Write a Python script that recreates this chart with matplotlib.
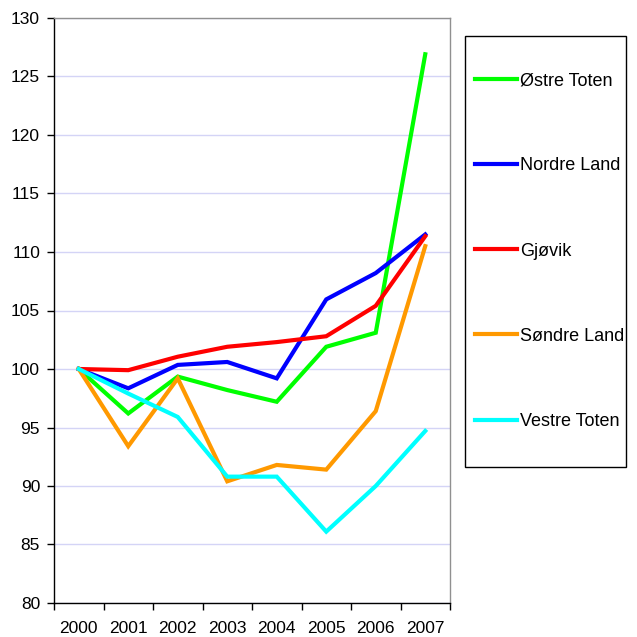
import matplotlib
matplotlib.use("Agg")
import matplotlib.pyplot as plt
from matplotlib.patches import Rectangle
import numpy as np

plt.rcParams['font.family'] = ['Liberation Sans', 'DejaVu Sans']

years = ["2000", "2001", "2002", "2003", "2004", "2005", "2006", "2007"]
series_names = ["Østre Toten", "Nordre Land", "Gjøvik", "Søndre Land", "Vestre Toten"]
ostre_toten = [100, 96.2, 99.35, 98.2, 97.2, 101.9, 103.1, 126.9]
nordre_land = [100, 98.35, 100.35, 100.6, 99.2, 105.95, 108.2, 111.5]
gjovik = [100, 99.9, 101.05, 101.9, 102.3, 102.8, 105.4, 111.35]
sondre_land = [100, 93.4, 99.2, 90.4, 91.8, 91.4, 96.4, 110.5]
vestre_toten = [100, 97.9, 95.9, 90.8, 90.8, 86.1, 90.0, 94.7]
colors = ["#00FF00", "#0000FF", "#FF0000", "#FF9900", "#00FFFF"]
y_ticks = [80, 85, 90, 95, 100, 105, 110, 115, 120, 125, 130]

W = H = 637
fig = plt.figure(figsize=(W / 100, H / 100), dpi=100)
ax = fig.add_axes([54 / W, 1 - 603 / H, 396 / W, 585 / H])

x = np.arange(len(years))
handles = []
for name, vals, c in zip(series_names, [ostre_toten, nordre_land, gjovik, sondre_land, vestre_toten], colors):
    h, = ax.plot(x, vals, color=c, lw=3.0, label=name, solid_joinstyle='miter', zorder=3)
    handles.append(h)

ax.set_xlim(-0.5, len(years) - 0.5)
ax.set_ylim(80, 130)
ax.set_yticks(y_ticks)
ax.set_yticklabels([str(v) for v in y_ticks], fontsize=12.5)
ax.set_xticks(np.arange(len(years) + 1) - 0.5)
ax.set_xticklabels([])
ax.set_xticks(x, minor=True)
ax.set_xticklabels(years, minor=True, fontsize=12.5)
ax.tick_params(axis='x', which='major', direction='out', length=5, width=1, color='black')
ax.tick_params(axis='x', which='minor', length=0, pad=13)
ax.tick_params(axis='y', direction='out', length=5, width=1, pad=5, color='black')

ax.grid(axis='y', color='#d4d4f6', lw=1, zorder=0)
ax.set_axisbelow(True)
for s in ['top', 'right']:
    ax.spines[s].set_color('#909090')
    ax.spines[s].set_linewidth(1)
for s in ['left', 'bottom']:
    ax.spines[s].set_color('black')
    ax.spines[s].set_linewidth(1)

# legend box
fig.patches.append(Rectangle((465 / W, 1 - 467 / H), 161 / W, 431 / H, transform=fig.transFigure,
                             fill=False, edgecolor='black', lw=1))
fig.legend(handles=handles, loc='center left', bbox_to_anchor=(466 / W, 1 - 251 / H),
           frameon=False, fontsize=13, handlelength=2.3, handletextpad=0.2,
           labelspacing=3.78, borderpad=0.0)

fig.savefig("out.png", dpi=100, facecolor='white')
